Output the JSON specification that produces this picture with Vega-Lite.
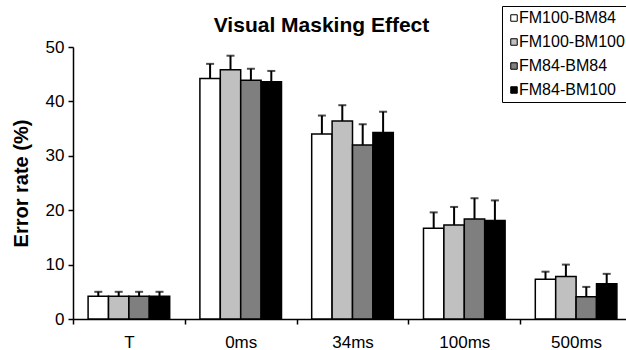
{
  "$schema": "https://vega.github.io/schema/vega-lite/v6.json",
  "width": 559,
  "height": 272,
  "autosize": {"type": "none"},
  "padding": {"left": 73, "top": 47, "right": 0, "bottom": 31},
  "background": "white",
  "title": {
    "text": "Visual Masking Effect",
    "fontSize": 21,
    "fontWeight": "bold",
    "font": "Liberation Sans",
    "color": "black",
    "anchor": "middle",
    "frame": "group",
    "dx": -31,
    "baseline": "alphabetic",
    "offset": -47
  },
  "data": {
    "values": [
      {"group": "T", "cond": "FM100-BM84", "value": 4.2, "upper": 5.0},
      {"group": "T", "cond": "FM100-BM100", "value": 4.2, "upper": 5.0},
      {"group": "T", "cond": "FM84-BM84", "value": 4.2, "upper": 5.0},
      {"group": "T", "cond": "FM84-BM100", "value": 4.2, "upper": 5.0},
      {"group": "0ms", "cond": "FM100-BM84", "value": 44.2, "upper": 46.9},
      {"group": "0ms", "cond": "FM100-BM100", "value": 45.8, "upper": 48.4},
      {"group": "0ms", "cond": "FM84-BM84", "value": 43.9, "upper": 46.0},
      {"group": "0ms", "cond": "FM84-BM100", "value": 43.6, "upper": 45.6},
      {"group": "34ms", "cond": "FM100-BM84", "value": 34.0, "upper": 37.4},
      {"group": "34ms", "cond": "FM100-BM100", "value": 36.4, "upper": 39.3},
      {"group": "34ms", "cond": "FM84-BM84", "value": 32.0, "upper": 35.8},
      {"group": "34ms", "cond": "FM84-BM100", "value": 34.3, "upper": 38.1},
      {"group": "100ms", "cond": "FM100-BM84", "value": 16.7, "upper": 19.6},
      {"group": "100ms", "cond": "FM100-BM100", "value": 17.3, "upper": 20.6},
      {"group": "100ms", "cond": "FM84-BM84", "value": 18.4, "upper": 22.2},
      {"group": "100ms", "cond": "FM84-BM100", "value": 18.1, "upper": 21.8},
      {"group": "500ms", "cond": "FM100-BM84", "value": 7.3, "upper": 8.7},
      {"group": "500ms", "cond": "FM100-BM100", "value": 7.8, "upper": 10.0},
      {"group": "500ms", "cond": "FM84-BM84", "value": 4.1, "upper": 5.9},
      {"group": "500ms", "cond": "FM84-BM100", "value": 6.5, "upper": 8.3}
    ]
  },
  "encoding": {
    "x": {
      "field": "group",
      "type": "nominal",
      "sort": ["T", "0ms", "34ms", "100ms", "500ms"],
      "scale": {"paddingInner": 0, "paddingOuter": 0},
      "axis": {
        "title": null,
        "labelAngle": 0,
        "tickBand": "extent",
        "tickSize": 5,
        "labelPadding": 10,
        "labelFontSize": 17
      }
    },
    "xOffset": {
      "field": "cond",
      "type": "nominal",
      "sort": ["FM100-BM84", "FM100-BM100", "FM84-BM84", "FM84-BM100"],
      "scale": {"paddingInner": 0, "paddingOuter": 0.74}
    }
  },
  "layer": [
    {
      "mark": {"type": "bar", "stroke": "black", "strokeWidth": 1.5},
      "encoding": {
        "y": {
          "field": "value",
          "type": "quantitative",
          "scale": {"domain": [0, 50], "nice": false},
          "axis": {
            "title": "Error rate (%)",
            "values": [0, 10, 20, 30, 40, 50],
            "tickSize": 5,
            "labelPadding": 4,
            "labelFontSize": 17,
            "titleFontSize": 20,
            "titleFontWeight": "bold",
            "titleX": -46,
            "titleY": 136,
            "titleBaseline": "alphabetic",
            "titleAnchor": "middle"
          }
        },
        "color": {
          "field": "cond",
          "type": "nominal",
          "sort": ["FM100-BM84", "FM100-BM100", "FM84-BM84", "FM84-BM100"],
          "scale": {
            "domain": ["FM100-BM84", "FM100-BM100", "FM84-BM84", "FM84-BM100"],
            "range": ["#ffffff", "#c0c0c0", "#7f7f7f", "#000000"]
          },
          "legend": {
            "title": null,
            "orient": "none",
            "legendX": 429,
            "legendY": -41,
            "symbolType": "square",
            "symbolSize": 42,
            "symbolStrokeColor": "black",
            "symbolStrokeWidth": 1,
            "symbolOpacity": 1,
            "labelFontSize": 16,
            "labelOffset": -3,
            "labelLimit": 300,
            "rowPadding": 8,
            "padding": 4,
            "strokeColor": "black",
            "fillColor": "white"
          }
        }
      }
    },
    {
      "mark": {"type": "rule", "color": "black", "strokeWidth": 2},
      "encoding": {
        "y": {"field": "value", "type": "quantitative"},
        "y2": {"field": "upper"}
      }
    },
    {
      "mark": {"type": "tick", "color": "black", "thickness": 2, "size": 8, "orient": "horizontal"},
      "encoding": {
        "y": {"field": "upper", "type": "quantitative"}
      }
    }
  ],
  "config": {
    "font": "Liberation Sans",
    "view": {"stroke": null},
    "axis": {
      "grid": false,
      "domainColor": "black",
      "domainWidth": 1.5,
      "tickColor": "black",
      "tickWidth": 1.5,
      "labelColor": "black",
      "titleColor": "black",
      "labelFont": "Liberation Sans",
      "titleFont": "Liberation Sans"
    },
    "legend": {"labelColor": "black", "labelFont": "Liberation Sans"}
  }
}
